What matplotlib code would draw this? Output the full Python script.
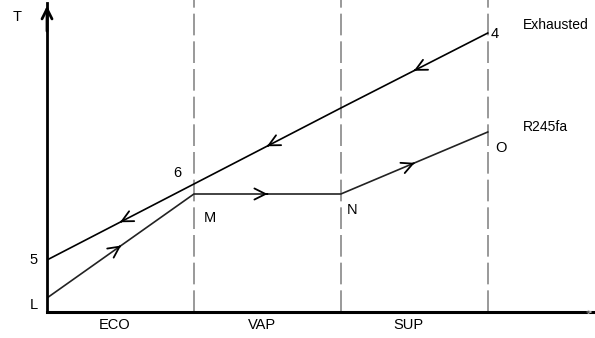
import numpy as np
import matplotlib
matplotlib.use("Agg")
import matplotlib.pyplot as plt

plt.rcParams['font.family'] = ['Liberation Sans', 'DejaVu Sans']

# section boundaries along the heat exchanger
boundaries = [0, 1, 2, 3]
sections = ["ECO", "VAP", "SUP"]

# exhausted gas line (flows right -> left)
exh_x = [0, 1, 2, 3]
exh_T = [52, 128, 204, 279]

# R245fa line (flows left -> right)
r_x = [0, 1, 2, 3]
r_T = [14, 118, 118, 180]

fig = plt.figure(figsize=(5.95, 3.38), dpi=100)
ax = fig.add_axes([0.079, 0.077, 0.921, 0.914])
ax.set_xlim(0, 3.73)
ax.set_ylim(0, 309)
for s in ["top", "right"]:
    ax.spines[s].set_visible(False)
ax.spines["left"].set_linewidth(2)
ax.spines["bottom"].set_linewidth(2.2)
ax.set_xticks([])
ax.set_yticks([])

# axis arrows
ax.annotate("", xy=(0, 1.0), xytext=(0, 0.9), xycoords="axes fraction",
            arrowprops=dict(arrowstyle="->", lw=2, color="black", mutation_scale=18))
ax.annotate("", xy=(1.0, 0), xytext=(0.98, 0), xycoords="axes fraction",
            arrowprops=dict(arrowstyle="->", lw=0.6, color="#bbbbbb", mutation_scale=6))

# dashed section boundaries
for b in boundaries[1:]:
    ax.plot([b, b], [0, 330], color="#888888", lw=1.2, dashes=(13, 3.6), clip_on=False)

ax.plot(exh_x, exh_T, color="black", lw=1.2)
ax.plot(r_x, r_T, color="#222222", lw=1.2)


def mid_arrows(xs, ys, reverse=False):
    for i in range(len(xs) - 1):
        xm = (xs[i] + xs[i + 1]) / 2
        ym = (ys[i] + ys[i + 1]) / 2
        dx = (xs[i + 1] - xs[i]) * 0.02
        dy = (ys[i + 1] - ys[i]) * 0.02
        if reverse:
            dx, dy = -dx, -dy
        ax.annotate("", xy=(xm + dx, ym + dy), xytext=(xm - dx, ym - dy),
                    arrowprops=dict(arrowstyle="->", lw=1.3, color="black",
                                    mutation_scale=20))


mid_arrows(exh_x, exh_T, reverse=True)
mid_arrows(r_x, r_T)

fs = 10.5
# point labels
ax.text(-0.09, exh_T[0], "5", fontsize=fs, ha="center", va="center")
ax.text(0.89, exh_T[1] + 11, "6", fontsize=fs, ha="center", va="center")
ax.text(3.02, exh_T[3] - 1, "4", fontsize=fs, ha="left", va="center")
ax.text(-0.09, r_T[0] - 7, "L", fontsize=fs, ha="center", va="center")
ax.text(1.07, r_T[1] - 24, "M", fontsize=fs, ha="left", va="center")
ax.text(2.04, r_T[2] - 16, "N", fontsize=fs, ha="left", va="center")
ax.text(3.05, r_T[3] - 16, "O", fontsize=fs, ha="left", va="center")

ax.text(-0.2, 295, "T", fontsize=fs, ha="center", va="center", clip_on=False)
ax.text(3.24, 287, "Exhausted", fontsize=10, ha="left", va="center")
ax.text(3.24, 185, "R245fa", fontsize=10, ha="left", va="center")

for i, name in enumerate(sections):
    ax.text(i + 0.46, -13, name, fontsize=fs, ha="center", va="center", clip_on=False)

fig.savefig("out.png", dpi=100)
